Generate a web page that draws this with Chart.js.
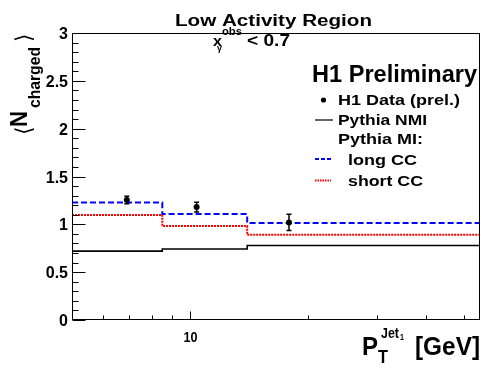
<!DOCTYPE html>
<html>
<head>
<meta charset="utf-8">
<script src="https://cdn.jsdelivr.net/npm/chart.js@4/dist/chart.umd.min.js"></script>
<style>
  html, body { margin: 0; padding: 0; background: #fff; }
  #c { display: block; }
</style>
</head>
<body>
<canvas id="c" width="491" height="374"></canvas>
<script>
// ---- data ----
const binEdges = [5, 8.5, 14, 55];            // P_T^Jet1 bin edges [GeV]
const pythiaNMI = [0.72, 0.742, 0.778];
const longCC   = [1.227, 1.108, 1.014];
const shortCC  = [1.097, 0.982, 0.89];
const dataX    = [6.9, 10.4, 17.9];
const dataY    = [1.254, 1.18, 1.02];
const dataErr  = [0.04, 0.05, 0.085];

const yMajorTicks = [0, 0.5, 1, 1.5, 2, 2.5, 3];
const yTickLabels = ['0', '0.5', '1', '1.5', '2', '2.5', '3'];
const yMinorTicks = [0.1,0.2,0.3,0.4,0.6,0.7,0.8,0.9,1.1,1.2,1.3,1.4,1.6,1.7,1.8,1.9,2.1,2.2,2.3,2.4,2.6,2.7,2.8,2.9];
const xMajorTicks = [10];
const xTickLabels = ['10'];
const xMinorTicks = [6, 7, 8, 9, 20, 30, 40, 50];

const title = 'Low Activity Region';
const legendTitle = 'H1 Preliminary';
const legendLabels = ['H1 Data (prel.)', 'Pythia NMI', 'Pythia MI:', 'long CC', 'short CC'];

function stepPoints(vals) {
  return binEdges.map((e, i) => ({ x: e, y: vals[Math.min(i, vals.length - 1)] }));
}

const FONT = '"Liberation Sans", Arial, Helvetica, sans-serif';

function drawText(ctx, s, x, y, font, width, align) {
  ctx.save();
  ctx.font = font;
  ctx.textBaseline = 'alphabetic';
  ctx.textAlign = 'left';
  const w = ctx.measureText(s).width;
  let sx = 1;
  if (width) sx = width / w;
  let left = x;
  const realW = w * sx;
  if (align === 'center') left = x - realW / 2;
  else if (align === 'right') left = x - realW;
  ctx.translate(left, y);
  ctx.scale(sx, 1);
  ctx.fillText(s, 0, 0);
  ctx.restore();
}

const decor = {
  id: 'decor',
  afterDatasetsDraw(chart) {
    const ctx = chart.ctx;
    const xs = chart.scales.x, ys = chart.scales.y;
    // error bars
    ctx.save();
    ctx.strokeStyle = '#000';
    ctx.lineWidth = 1.5;
    for (let i = 0; i < dataX.length; i++) {
      const px = xs.getPixelForValue(dataX[i]);
      const y1 = ys.getPixelForValue(dataY[i] - dataErr[i]);
      const y2 = ys.getPixelForValue(dataY[i] + dataErr[i]);
      ctx.beginPath();
      ctx.moveTo(px, y1); ctx.lineTo(px, y2);
      ctx.moveTo(px - 2.5, y1); ctx.lineTo(px + 2.5, y1);
      ctx.moveTo(px - 2.5, y2); ctx.lineTo(px + 2.5, y2);
      ctx.stroke();
    }
    ctx.restore();
  },
  afterDraw(chart) {
    const ctx = chart.ctx;
    const a = chart.chartArea;
    const xs = chart.scales.x, ys = chart.scales.y;
    ctx.save();
    ctx.fillStyle = '#000';
    ctx.strokeStyle = '#000';
    ctx.lineWidth = 1;
    // frame
    ctx.strokeRect(Math.round(a.left) + 0.5, Math.round(a.top) + 0.5,
                   Math.round(a.right - a.left) - 1, Math.round(a.bottom - a.top) - 1);
    const L = Math.round(a.left) + 0.5, B = Math.round(a.bottom) - 0.5;
    // y ticks (inward)
    ctx.beginPath();
    yMajorTicks.forEach(v => { const p = Math.round(ys.getPixelForValue(v)) + 0.5; ctx.moveTo(L, p); ctx.lineTo(L + 13, p); });
    yMinorTicks.forEach(v => { const p = Math.round(ys.getPixelForValue(v)) + 0.5; ctx.moveTo(L, p); ctx.lineTo(L + 6, p); });
    xMajorTicks.forEach(v => { const p = Math.round(xs.getPixelForValue(v)) + 0.5; ctx.moveTo(p, B); ctx.lineTo(p, B - 8); });
    xMinorTicks.forEach(v => { const p = Math.round(xs.getPixelForValue(v)) + 0.5; ctx.moveTo(p, B); ctx.lineTo(p, B - 4); });
    ctx.stroke();
    // tick labels
    yMajorTicks.forEach((v, i) => {
      const p = ys.getPixelForValue(v);
      drawText(ctx, yTickLabels[i], 68, p + 6, 'bold 16px ' + FONT, null, 'right');
    });
    xMajorTicks.forEach((v, i) => {
      const p = xs.getPixelForValue(v);
      drawText(ctx, xTickLabels[i], p + 0.5, 342, 'bold 15px ' + FONT, 14, 'center');
    });
    // title
    drawText(ctx, title, 273.5, 26, 'bold 16px ' + FONT, 197, 'center');
    // x_gamma^obs < 0.7
    drawText(ctx, 'x', 213, 46, 'bold 15px ' + FONT, 9);
    drawText(ctx, '\u03b3', 217, 51, 'bold 9px ' + FONT, 5);
    drawText(ctx, 'obs', 222, 35, 'bold 10px ' + FONT, 20);
    drawText(ctx, '< 0.7', 247, 46, 'bold 16px ' + FONT, 43);
    // legend
    drawText(ctx, legendTitle, 312, 82, 'bold 23px ' + FONT, 165);
    const lf = 'bold 15px ' + FONT;
    drawText(ctx, legendLabels[0], 338, 105, lf, 122);
    drawText(ctx, legendLabels[1], 338, 125, lf, 89);
    drawText(ctx, legendLabels[2], 338, 144, lf, 85);
    drawText(ctx, legendLabels[3], 348, 165, lf, 69);
    drawText(ctx, legendLabels[4], 348, 186, lf, 75);
    ctx.beginPath(); ctx.arc(323.5, 100, 2.6, 0, Math.PI * 2); ctx.fill();
    ctx.lineWidth = 1.2;
    ctx.beginPath(); ctx.moveTo(315, 120); ctx.lineTo(333, 120); ctx.stroke();
    ctx.lineWidth = 2;
    ctx.strokeStyle = '#0000ff'; ctx.setLineDash([4, 2]);
    ctx.beginPath(); ctx.moveTo(315, 159); ctx.lineTo(331, 159); ctx.stroke();
    ctx.strokeStyle = '#ff0000'; ctx.setLineDash([1.5, 1]);
    ctx.beginPath(); ctx.moveTo(315, 180.5); ctx.lineTo(331, 180.5); ctx.stroke();
    ctx.setLineDash([]);
    // x axis title
    drawText(ctx, 'P', 362, 355, 'bold 25px ' + FONT, 16);
    drawText(ctx, 'T', 378, 363, 'bold 18px ' + FONT, 10);
    drawText(ctx, 'Jet', 381, 338, 'bold 15px ' + FONT, 18);
    drawText(ctx, '1', 400, 340, 'bold 9px ' + FONT, 4);
    drawText(ctx, '[GeV]', 415, 355, 'bold 25px ' + FONT, 65);
    // y axis title (rotated)
    ctx.save();
    ctx.translate(27, 133);
    ctx.rotate(-Math.PI / 2);
    ctx.font = '22px "DejaVu Sans", sans-serif';
    ctx.fillText('\u27e8', -2, 4);
    drawText(ctx, 'N', 6, 0, 'bold 24px ' + FONT, 16);
    drawText(ctx, 'charged', 25, 12.5, 'bold 16px ' + FONT, 61);
    ctx.font = '22px "DejaVu Sans", sans-serif';
    ctx.fillText('\u27e9', 91, 4);
    ctx.restore();
    ctx.restore();
  }
};

new Chart(document.getElementById('c'), {
  type: 'line',
  data: {
    datasets: [
      {
        label: legendLabels[0],
        data: dataX.map((x, i) => ({ x: x, y: dataY[i] })),
        showLine: false,
        pointRadius: 3,
        pointStyle: 'circle',
        pointBackgroundColor: '#000',
        pointBorderColor: '#000',
        pointBorderWidth: 0
      },
      {
        label: 'long CC',
        data: stepPoints(longCC),
        stepped: true,
        borderColor: '#0000ff',
        borderWidth: 2,
        borderDash: [6, 3],
        pointRadius: 0,
        fill: false
      },
      {
        label: 'short CC',
        data: stepPoints(shortCC),
        stepped: true,
        borderColor: '#ff0000',
        borderWidth: 2,
        borderDash: [2, 1],
        pointRadius: 0,
        fill: false
      },
      {
        label: 'Pythia NMI',
        data: stepPoints(pythiaNMI),
        stepped: true,
        borderColor: '#000',
        borderWidth: 1.6,
        pointRadius: 0,
        fill: false
      }
    ]
  },
  options: {
    responsive: false,
    animation: false,
    devicePixelRatio: 1,
    layout: { padding: { left: 72, right: 11, top: 33, bottom: 54 } },
    scales: {
      x: { type: 'logarithmic', min: 5, max: 55, display: false },
      y: { type: 'linear', min: 0, max: 3, display: false }
    },
    plugins: { legend: { display: false }, tooltip: { enabled: false } }
  },
  plugins: [decor]
});
</script>
</body>
</html>
